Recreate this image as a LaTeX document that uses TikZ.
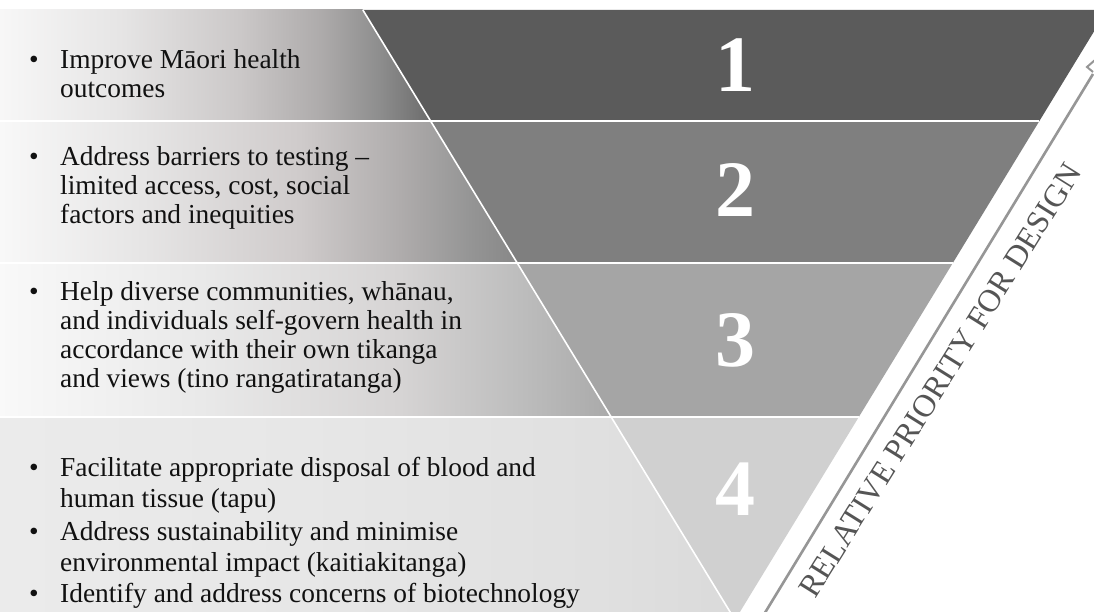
\documentclass[tikz,border=0pt]{standalone}
\usepackage{fontspec}
\setmainfont{Liberation Serif}
\usetikzlibrary{calc}

\pgfdeclarehorizontalshading{bandA}{100bp}{rgb(0bp)=(0.969,0.969,0.969); rgb(25bp)=(0.969,0.969,0.969); rgb(30.48bp)=(0.902,0.898,0.898); rgb(35.97bp)=(0.796,0.784,0.784); rgb(39.63bp)=(0.682,0.671,0.671); rgb(42.37bp)=(0.553,0.553,0.553); rgb(44.65bp)=(0.424,0.424,0.424); rgb(100bp)=(0.424,0.424,0.424)}
\pgfdeclarehorizontalshading{bandB}{100bp}{rgb(0bp)=(0.973,0.973,0.973); rgb(25bp)=(0.973,0.973,0.973); rgb(31.86bp)=(0.898,0.894,0.894); rgb(38.71bp)=(0.812,0.796,0.796); rgb(43.28bp)=(0.686,0.675,0.675); rgb(46.48bp)=(0.584,0.584,0.584); rgb(48.54bp)=(0.533,0.533,0.533); rgb(100bp)=(0.533,0.533,0.533)}
\pgfdeclarehorizontalshading{bandC}{100bp}{rgb(0bp)=(0.976,0.976,0.976); rgb(25bp)=(0.976,0.976,0.976); rgb(34.14bp)=(0.914,0.914,0.914); rgb(43.28bp)=(0.839,0.831,0.831); rgb(48.77bp)=(0.741,0.741,0.741); rgb(52.88bp)=(0.667,0.667,0.667); rgb(100bp)=(0.667,0.667,0.667)}
\pgfdeclarehorizontalshading{bandD}{100bp}{rgb(0bp)=(0.922,0.922,0.922); rgb(25bp)=(0.922,0.922,0.922); rgb(38.71bp)=(0.906,0.906,0.906); rgb(52.42bp)=(0.878,0.878,0.878); rgb(58.59bp)=(0.855,0.855,0.855); rgb(100bp)=(0.855,0.855,0.855)}

\definecolor{tri1}{HTML}{5B5B5B}
\definecolor{tri2}{HTML}{7F7F7F}
\definecolor{tri3}{HTML}{A5A5A5}
\definecolor{tri4}{HTML}{D0D0D0}
\definecolor{arrowgray}{HTML}{969696}
\definecolor{labgray}{HTML}{555555}
\definecolor{txt}{HTML}{111111}

\tikzset{
  bandtext/.style={anchor=west, inner sep=0pt, text=txt, font=\fontsize{27.4}{29}\selectfont},
  digit/.style={inner sep=0pt, text=white, font=\fontsize{80}{80}\selectfont\bfseries},
  sep/.style={draw=white, line width=2pt},
  edgeline/.style={draw=white, line width=1.6pt},
  shadowline/.style={draw=arrowgray, line width=2.6pt},
  sidelabel/.style={inner sep=0pt, anchor=base, text=labgray, font=\fontsize{32}{32}\selectfont}
}

\begin{document}
\begin{tikzpicture}[x=1pt,y=-1pt]
\useasboundingbox (0,0) rectangle (1094,612);
\clip (0,0) rectangle (1094,612);
\fill[white] (0,0) rectangle (1094,612);

% left shaded bands
\begin{scope}
\clip (0,0) -- (356.8,0) -- (735,620) -- (0,620) -- cycle;
\shade[shading=bandA] (0,10) rectangle (1094,121);
\shade[shading=bandB] (0,121) rectangle (1094,263);
\shade[shading=bandC] (0,263) rectangle (1094,417);
\shade[shading=bandD] (0,417) rectangle (1094,612);
\end{scope}

% inverted triangle bands
\fill[tri1] (362.9,10) -- (1107.1,10) -- (1039.4,121) -- (430.6,121) -- cycle;
\fill[tri2] (430.6,121) -- (1039.4,121) -- (952.8,263) -- (517.2,263) -- cycle;
\fill[tri3] (517.2,263) -- (952.8,263) -- (858.8,417) -- (611.2,417) -- cycle;
\fill[tri4] (611.2,417) -- (858.8,417) -- (735,620) -- cycle;

% white separators
\draw[edgeline] (362.9,10) -- (735,620);
\draw[sep] (0,121) -- (1039.4,121);
\draw[sep] (0,263) -- (952.8,263);
\draw[sep] (0,417) -- (858.8,417);

% arrow shadow
\coordinate (arrS) at (763,616);
\coordinate (arrE) at (1093,74);
\draw[shadowline] (arrS) -- (arrE);
\coordinate (barbA) at (1095,60);
\coordinate (barbB) at (1087,67);
\coordinate (barbC) at (1093,72);
\draw[draw=arrowgray, line width=2pt, line join=miter] (barbA) -- (barbB) -- (barbC);

% digits
\node[digit] (d1) at (735,65) {1};
\node[digit] (d2) at (735,190) {2};
\node[digit] (d3) at (735,340) {3};
\node[digit] (d4) at (735,489) {4};

% left texts
\node[bandtext] (t1) at (29,77) {\begin{tabular}{@{}p{31pt}@{}l@{}}\textbullet & Improve Māori health\\ & outcomes\end{tabular}};
\node[bandtext] (t2) at (29,189) {\begin{tabular}{@{}p{31pt}@{}l@{}}\textbullet & Address barriers to testing –\\ & limited access, cost, social\\ & factors and inequities\end{tabular}};
\node[bandtext] (t3) at (29,338) {\begin{tabular}{@{}p{31pt}@{}l@{}}\textbullet & Help diverse communities, whānau,\\ & and individuals self-govern health in\\ & accordance with their own tikanga\\ & and views (tino rangatiratanga)\end{tabular}};
\node[bandtext, font=\fontsize{27.4}{31}\selectfont] (t4) at (29,533) {\begin{tabular}{@{}p{31pt}@{}l@{}}\textbullet & Facilitate appropriate disposal of blood and\\ & human tissue (tapu)\\[2pt] \textbullet & Address sustainability and minimise\\ & environmental impact (kaitiakitanga)\\ \textbullet & Identify and address concerns of biotechnology\end{tabular}};

% side label
\node[sidelabel, rotate=58] (rel) at (949,386) {RELATIVE PRIORITY FOR DESIGN};
\end{tikzpicture}
\end{document}
